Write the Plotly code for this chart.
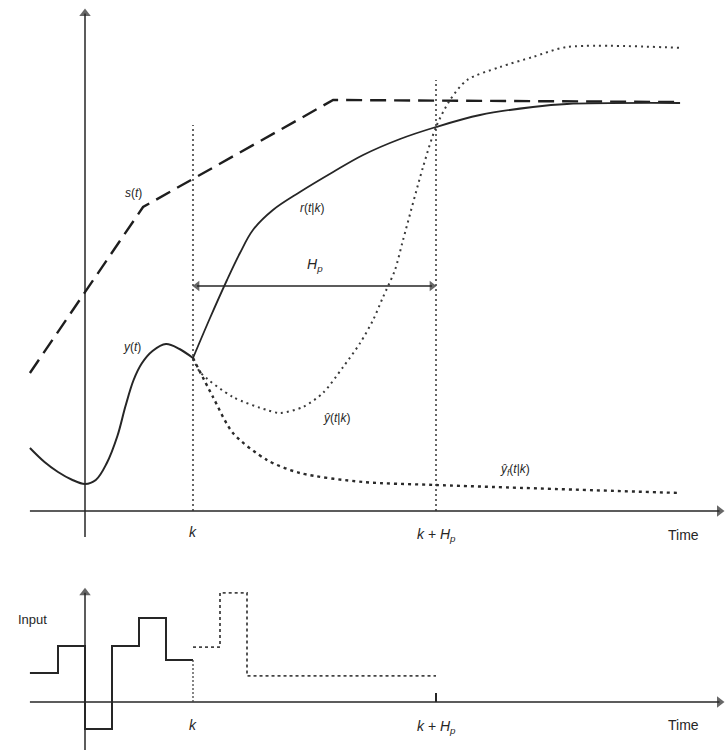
import plotly.graph_objects as go

# ---------------- data (time in sample steps, values in arbitrary units) ----------------
K = 4            # current time k
HP = 9           # prediction horizon H_p

# past output y(t)
y_t = [-2.04, -1.5, -1.0, -0.5, 0.0, 0.4, 0.8, 1.2, 1.5, 1.8, 2.1, 2.5, 3.0, 3.5, 4.0]
y_v = [1.26, 0.98, 0.78, 0.63, 0.54, 0.62, 0.95, 1.50, 2.10, 2.62, 2.95, 3.20, 3.34, 3.24, 3.06]

# set-point trajectory s(t)
s_t = [-2.04, 2.15, 9.19, 22.04]
s_v = [2.76, 6.08, 8.22, 8.18]

# reference trajectory r(t|k)
r_t = [4.0, 4.63, 5.26, 5.74, 6.22, 6.96, 7.96, 9.19, 10.3, 11.67, 13.0, 14.63, 16.59, 17.85, 22.04]
r_v = [3.06, 3.86, 4.62, 5.16, 5.62, 6.02, 6.38, 6.78, 7.12, 7.44, 7.68, 7.92, 8.08, 8.14, 8.16]

# predicted output yhat(t|k)
yh_t = [4.0, 4.26, 5.48, 6.74, 7.22, 8.07, 8.81, 9.56, 10.19, 10.67, 11.04, 11.48,
        11.78, 12.52, 13.0, 13.52, 14.15, 15.37, 16.59, 17.85, 22.15]
yh_v = [3.06, 2.78, 2.28, 2.02, 1.96, 2.08, 2.36, 2.88, 3.36, 3.82, 4.28, 4.82,
        5.42, 6.88, 7.68, 8.22, 8.62, 8.88, 9.08, 9.28, 9.26]

# free response yhat_f(t|k)
yf_t = [4.0, 4.74, 5.48, 6.74, 7.96, 10.3, 13.0, 22.04]
yf_v = [3.06, 2.28, 1.56, 1.02, 0.76, 0.58, 0.52, 0.36]

# past inputs (step, value held from t to next t)
u_t = [-2.04, -1.0, 0.0, 1.0, 2.0, 3.0, 4.0]
u_v = [1.04, 2.0, -0.96, 2.0, 3.0, 1.5, 1.5]

# future (planned) inputs
uf_t = [4.0, 5.0, 6.0, 13.0]
uf_v = [1.96, 3.9, 0.93, 0.93]

# label texts
lbl_s = "<i>s</i>(<i>t</i>)"
lbl_r = "<i>r</i>(<i>t</i>|<i>k</i>)"
lbl_y = "<i>y</i>(<i>t</i>)"
lbl_yh = "<i>ŷ</i>(<i>t</i>|<i>k</i>)"
lbl_yf = "<i>ŷ<sub>f</sub></i>(<i>t</i>|<i>k</i>)"
lbl_hp = "<i>H<sub>p</sub></i>"
lbl_k = "<i>k</i>"
lbl_khp = "<i>k</i> + <i>H<sub>p</sub></i>"

# ---------------- figure ----------------
INK = "#262626"
FONT = "Liberation Sans, Arial, sans-serif"
XR = [-85 / 27, 641 / 27]

fig = go.Figure()

def tr(x, y, dash="solid", width=2.0, shape="spline", xa="x", ya="y", color=INK, smooth=0.8):
    line = dict(color=color, width=width, dash=dash, shape=shape)
    if shape == "spline":
        line["smoothing"] = smooth
    fig.add_trace(go.Scatter(x=x, y=y, mode="lines", xaxis=xa, yaxis=ya, line=line,
                             hoverinfo="skip", showlegend=False))

def axis_line(x, y, angles, sizes, xa="x", ya="y", width=1.5):
    fig.add_trace(go.Scatter(x=x, y=y, mode="lines+markers", xaxis=xa, yaxis=ya,
                             line=dict(color=INK, width=width),
                             marker=dict(symbol="triangle-up", angle=angles, size=sizes,
                                         color=INK, line=dict(width=0)),
                             hoverinfo="skip", showlegend=False))

# axes with arrow heads
axis_line([0, 0], [-0.52, 9.95], [0, 0], [0, 10])
axis_line([-2.04, 23.5], [0, 0], [0, 90], [0, 10])
axis_line([0, 0], [-1.71, 3.9], [0, 0], [0, 10], "x2", "y2")
axis_line([-2.04, 23.5], [0, 0], [0, 90], [0, 10], "x2", "y2")
# H_p span double arrow
axis_line([K + 0.15, K + HP - 0.15], [4.5, 4.5], [-90, 90], [9, 9], width=1.4)

# top panel curves
tr(s_t, s_v, dash="16px,8px", width=2.4, shape="linear", color="#1e1e1e")
tr(r_t, r_v, width=1.8, smooth=1.0)
tr(y_t, y_v, width=2.0, smooth=1.0)
tr(yh_t, yh_v, dash="2px,4px", width=2.0, color="#3a3a3a")
tr(yf_t, yf_v, dash="3px,4px", width=2.4, color="#2a2a2a")

# bottom panel inputs
tr(u_t, u_v, width=2.0, shape="hv", xa="x2", ya="y2")
tr(uf_t, uf_v, dash="3px,3px", width=1.8, shape="hv", xa="x2", ya="y2", color="#444")

# vertical dotted guides
shapes = [
    dict(type="line", xref="x", yref="y", x0=K, x1=K, y0=0, y1=7.72,
         line=dict(color="#333", width=1.5, dash="2px,3px")),
    dict(type="line", xref="x", yref="y", x0=K + HP, x1=K + HP, y0=0, y1=8.62,
         line=dict(color="#333", width=1.5, dash="2px,3px")),
    dict(type="line", xref="x2", yref="y2", x0=K, x1=K, y0=0, y1=u_v[-1],
         line=dict(color="#444", width=1.3, dash="2px,2px")),
    dict(type="line", xref="x2", yref="y2", x0=K + HP, x1=K + HP, y0=0, y1=0.32,
         line=dict(color=INK, width=2)),
]

ann = []
def label(x, y, text, xr="x", yr="y", size=13):
    ann.append(dict(x=x, y=y, xref=xr, yref=yr, text=text, showarrow=False,
                    font=dict(family=FONT, size=size, color=INK)))

label(1.78, 6.36, lbl_s, size=12)
label(8.41, 6.06, lbl_r, size=12)
label(8.52, 4.92, lbl_hp, size=14)
label(1.74, 3.28, lbl_y, size=12)
label(9.33, 1.86, lbl_yh, size=12)
label(15.93, 0.82, lbl_yf, size=12)
label(K, -0.42, lbl_k, size=14)
label(K + HP, -0.48, lbl_khp, size=14)
label(22.15, -0.48, "Time", size=14)

label(-1.93, 2.93, "Input", "x2", "y2", size=13)
label(K, -0.82, lbl_k, "x2", "y2", size=14)
label(K + HP, -0.89, lbl_khp, "x2", "y2", size=14)
label(22.15, -0.82, "Time", "x2", "y2", size=14)

hidden = dict(visible=False, showgrid=False, zeroline=False, fixedrange=True)
fig.update_layout(
    width=726, height=751,
    margin=dict(l=0, r=0, t=0, b=0),
    paper_bgcolor="white", plot_bgcolor="white",
    xaxis=dict(domain=[0, 1], range=XR, anchor="y", **hidden),
    yaxis=dict(domain=[1 - 560 / 751, 1], range=[(511 - 560) / 50, 511 / 50], anchor="x", **hidden),
    xaxis2=dict(domain=[0, 1], range=XR, anchor="y2", **hidden),
    yaxis2=dict(domain=[0, 1 - 560 / 751], range=[(702 - 751) / 28, (702 - 560) / 28], anchor="x2", **hidden),
    shapes=shapes,
    annotations=ann,
    showlegend=False,
)

fig.write_html("out.html")
